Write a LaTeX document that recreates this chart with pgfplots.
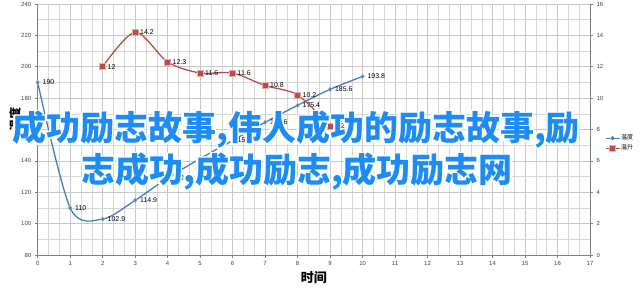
\documentclass[border=0pt]{standalone}
\usepackage{pgfplots}
\pgfplotsset{compat=1.18}
\usepackage{pgfplotstable}
\usepackage{fontspec}
\setmainfont{Liberation Sans}
\newfontfamily\cjk{Noto Sans CJK SC}

\definecolor{tempblue}{RGB}{74,126,187}
\definecolor{riseRed}{RGB}{190,75,72}
\definecolor{headline}{RGB}{30,140,245}
\definecolor{gridc}{RGB}{200,200,200}

% temperature over time
\pgfplotstableread{
x  y      lbl
0  190    190
1  110    110
2  102.9  102.9
3  114.9  114.9
4  129.1  129.1
5  141.4  141.4
6  153    153
7  164.6  164.6
8  175.4  175.4
9  185.6  185.6
10 193.8  193.8
}\tempdata

% temperature rise per step
\pgfplotstableread{
x  y     lbl
2  12    12
3  14.2  14.2
4  12.3  12.3
5  11.6  11.6
6  11.6  11.6
7  10.8  10.8
8  10.2  10.2
9  8.2   8.2
}\risedata

\newcommand\headfont{\cjk\bfseries\fontsize{34bp}{38bp}\selectfont}

\pgfplotsset{
  base/.style={
    scale only axis, width=552.3bp, height=251bp,
    xmin=0, xmax=17, clip=false,
    tick align=outside, major tick length=3bp, minor tick length=0pt,
    tick style={gray, line width=0.5bp},
    axis line style={gray, line width=0.7bp},
    ticklabel style={font=\fontsize{6}{7}\selectfont, text=black!75},
    /pgf/number format/assume math mode=true,
  },
  lbl/.style={
    nodes near coords, point meta=explicit symbolic,
    every node near coord/.style={anchor=west, xshift=1.5bp,
      font=\fontsize{7}{8}\selectfont, text=black},
  },
}

\begin{document}
\begin{tikzpicture}
\begin{axis}[base, name=ax,
  ymin=80, ymax=240,
  xtick={0,...,17}, ytick={80,100,...,240},
  minor x tick num=2, minor y tick num=1,
  grid=both,
  major grid style={gridc, line width=0.6bp},
  minor grid style={gridc!75, line width=0.4bp},
  axis x line*=bottom, axis y line*=left,
  xlabel={\cjk\bfseries\fontsize{13bp}{15bp}\selectfont 时间},
  xlabel style={at={(axis description cs:0.5,0)}, anchor=center, yshift=-23bp},
  ylabel={\cjk\bfseries\fontsize{12bp}{14bp}\selectfont 温度},
  ylabel style={at={(axis description cs:-0.041,0.54)}, anchor=center},
]
\addplot[tempblue, line width=1.3bp, smooth, lbl,
  mark=diamond*, mark size=2.4bp,
  mark options={fill=tempblue, draw=tempblue!55!white, line width=0.4bp}]
  table[x=x, y=y, meta=lbl] {\tempdata};
\end{axis}

\begin{axis}[base,
  ymin=0, ymax=16, ytick={0,2,...,16},
  axis x line=none, axis y line*=right,
  legend style={at={(1.027,0.446)}, anchor=west, draw=none, fill=none,
    font=\cjk\fontsize{6}{7}\selectfont, row sep=1.5bp, inner sep=0pt,
    nodes={inner sep=1pt}},
  legend image code/.code={
    \draw[#1, mark repeat=2, mark phase=2, line width=1bp]
      plot coordinates {(0bp,0bp) (7bp,0bp) (14bp,0bp)};},
]
\addlegendimage{tempblue, mark=diamond*, mark size=1.6bp,
  mark options={fill=tempblue}}
\addlegendentry{温度}
\addplot[riseRed, line width=1.3bp, smooth, lbl,
  mark=square*, mark size=3bp,
  mark options={fill=riseRed, draw=riseRed!45!white, line width=0.5bp}]
  table[x=x, y=y, meta=lbl] {\risedata};
\addlegendentry{温升}
\end{axis}

% headline over the chart, with a white halo
\coordinate (l1) at ([xshift=258.3bp, yshift=125bp]ax.south west);
\coordinate (l2) at ([xshift=259.3bp, yshift=83bp]ax.south west);
\foreach \a in {0,45,...,315}{
  \node[text=white, font=\headfont, inner sep=0pt] at ([shift={(\a:1.6bp)}]l1)
    {成功励志故事,伟人成功的励志故事,励};
  \node[text=white, font=\headfont, inner sep=0pt] at ([shift={(\a:1.6bp)}]l2)
    {志成功,成功励志,成功励志网};
}
\node[text=headline, font=\headfont, inner sep=0pt] at (l1)
  {成功励志故事,伟人成功的励志故事,励};
\node[text=headline, font=\headfont, inner sep=0pt] at (l2)
  {志成功,成功励志,成功励志网};

\pgfresetboundingbox
\useasboundingbox ([xshift=-37.7bp, yshift=-36bp]ax.south west)
  rectangle ([xshift=50bp, yshift=4bp]ax.north east);
\end{tikzpicture}
\end{document}
